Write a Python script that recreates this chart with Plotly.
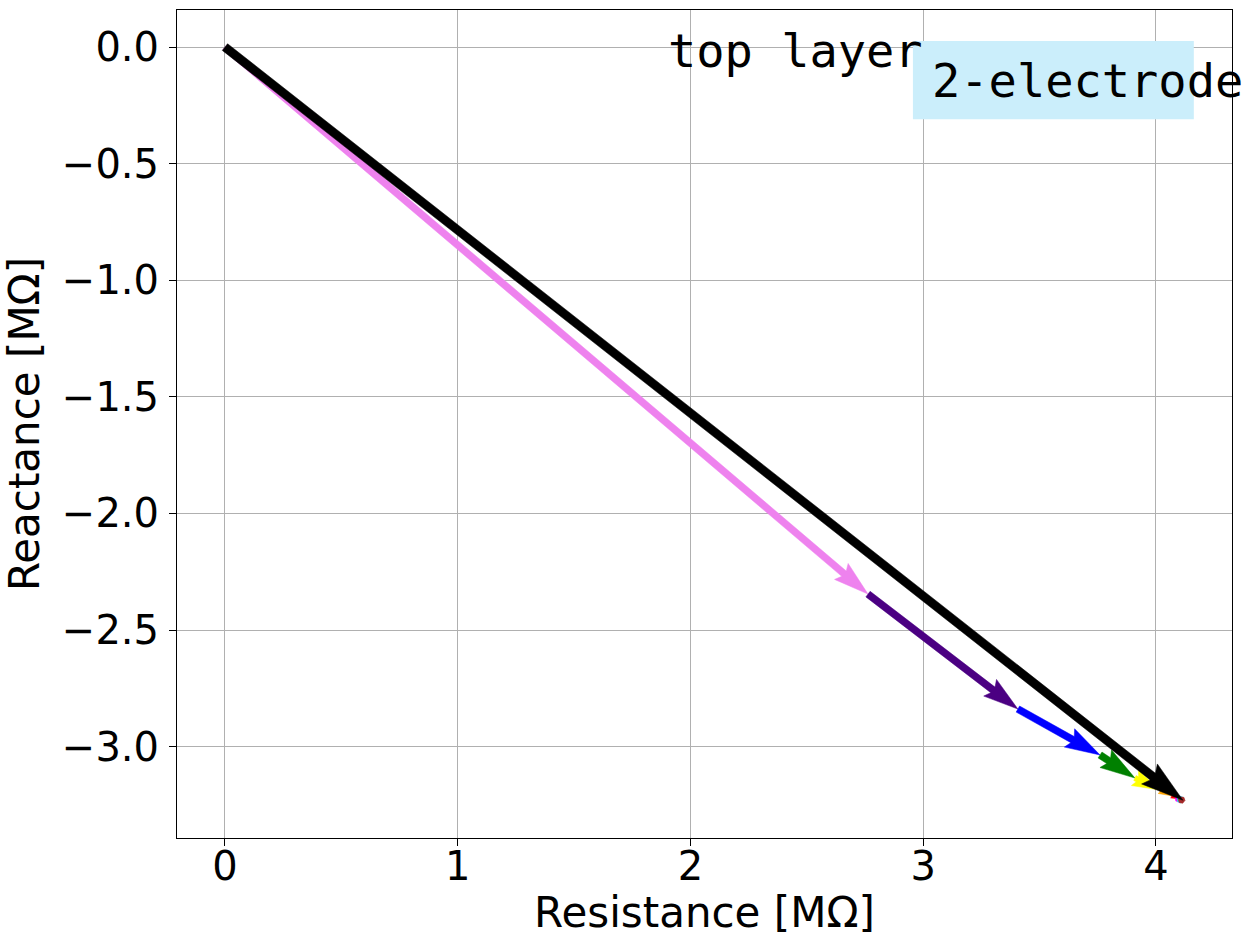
import numpy as np
import plotly.graph_objects as go

# Impedance contribution of each layer (resistance, reactance) in MΩ
layer_resistance = [2.763, 0.644, 0.353, 0.150, 0.107, 0.050, 0.030, 0.008, 0.005, 0.006]
layer_reactance = [-2.346, -0.493, -0.197, -0.099, -0.051, -0.025, -0.013, -0.003, -0.002, -0.001]
layer_colors = ["violet", "indigo", "blue", "green", "yellow", "orange",
                "red", "magenta", "cyan", "brown"]

x_ticks = [0, 1, 2, 3, 4]
y_ticks = [0.0, -0.5, -1.0, -1.5, -2.0, -2.5, -3.0]

X_RANGE = [-0.206, 4.327]
Y_RANGE = [-3.392, 0.159]
W, H = 1251, 937
MARGIN = dict(l=177, r=19, t=10, b=99)

# pixels per data unit, used to shape the arrow polygons
sx = (W - MARGIN["l"] - MARGIN["r"]) / (X_RANGE[1] - X_RANGE[0])
sy = (H - MARGIN["t"] - MARGIN["b"]) / (Y_RANGE[1] - Y_RANGE[0])

# Chained vectors: each layer starts where the previous one ends
ends_r = np.cumsum(layer_resistance)
ends_x = np.cumsum(layer_reactance)
starts_r = np.concatenate([[0.0], ends_r[:-1]])
starts_x = np.concatenate([[0.0], ends_x[:-1]])


def quiver_polygon(r0, x0, r1, x1, width, headwidth=3.0, headlength=5.0,
                   headaxislength=4.5, minshaft=1.0, minlength=1.0):
    """Quiver-style arrow outline (shaft + head), returned in data units."""
    dxp = (r1 - r0) * sx
    dyp = (x1 - x0) * sy
    length = np.hypot(dxp, dyp) / width  # in shaft widths
    ii = [0, 1, 2, 3, 2, 1, 0, 0]
    if length < minlength:
        th = np.arange(0, 8) * (np.pi / 3.0)
        lx = np.cos(th) * minlength * 0.5
        ly = np.sin(th) * minlength * 0.5
    else:
        minsh = minshaft * headlength
        if length < minsh:
            xs = np.array([0, minsh - headaxislength, minsh - headlength, minsh])
            ys = 0.5 * np.array([1, 1, headwidth, 0])
            lx = xs[ii] * (length / minsh)
            ly = ys[ii] * (length / minsh)
        else:
            xs = np.array([0, -headaxislength, -headlength, 0]) + np.array([0, 1, 1, 1]) * length
            ys = 0.5 * np.array([1, 1, headwidth, 0])
            lx = xs[ii]
            ly = ys[ii].copy()
        ly = np.array(ly, dtype=float)
        ly[3:-1] *= -1
    ang = np.arctan2(dyp, dxp)
    px = (lx * np.cos(ang) - ly * np.sin(ang)) * width
    py = (lx * np.sin(ang) + ly * np.cos(ang)) * width
    return r0 + px / sx, x0 + py / sy


fig = go.Figure()


def add_arrow(r0, x0, r1, x1, color, width):
    pr, px = quiver_polygon(r0, x0, r1, x1, width)
    fig.add_trace(go.Scatter(x=pr, y=px, mode="lines", fill="toself",
                             fillcolor=color, line=dict(width=0.5, color=color),
                             hoverinfo="skip", showlegend=False))


for r0, x0, r1, x1, c in zip(starts_r, starts_x, ends_r, ends_x, layer_colors):
    add_arrow(r0, x0, r1, x1, c, 7.0)

# total impedance
add_arrow(0.0, 0.0, ends_r[-1], ends_x[-1], "black", 8.5)

mono = "DejaVu Sans Mono"
annotations = [
    dict(x=1.895, y=-0.013, xref="x", yref="y", xanchor="left", yanchor="middle",
         showarrow=False, text="top layer",
         font=dict(family=mono, size=47, color="black")),
    # label overruns the plot's right edge, so it is anchored in paper space
    dict(x=1.0125, y=-0.1415, xref="paper", yref="y", xanchor="right", yanchor="middle",
         showarrow=False, text="2-electrode",
         font=dict(family=mono, size=47, color="black")),
]

shapes = [dict(type="rect", xref="x", yref="y", x0=2.956, x1=4.163, y0=0.026, y1=-0.309,
               fillcolor="#cbeefb", line=dict(width=0), layer="above")]

axis_common = dict(
    showgrid=True, gridcolor="#b0b0b0", gridwidth=1,
    showline=True, linecolor="black", linewidth=1, mirror=True,
    ticks="outside", ticklen=7, tickcolor="black", tickwidth=1,
    zeroline=False, automargin=False,
    tickfont=dict(family="DejaVu Sans", size=40, color="black"),
)

fig.update_layout(
    width=W, height=H,
    margin=MARGIN,
    plot_bgcolor="white", paper_bgcolor="white",
    annotations=annotations, shapes=shapes,
    xaxis=dict(range=X_RANGE, tickvals=x_ticks, ticklabelstandoff=-14,
               title=dict(text="Resistance [MΩ]", standoff=0,
                          font=dict(family="DejaVu Sans", size=42, color="black")),
               **axis_common),
    yaxis=dict(range=Y_RANGE, tickvals=y_ticks, tickformat=".1f", ticklabelstandoff=2,
               title=dict(text="Reactance [MΩ]", standoff=10,
                          font=dict(family="DejaVu Sans", size=42, color="black")),
               **axis_common),
)

fig.write_html("out.html")
